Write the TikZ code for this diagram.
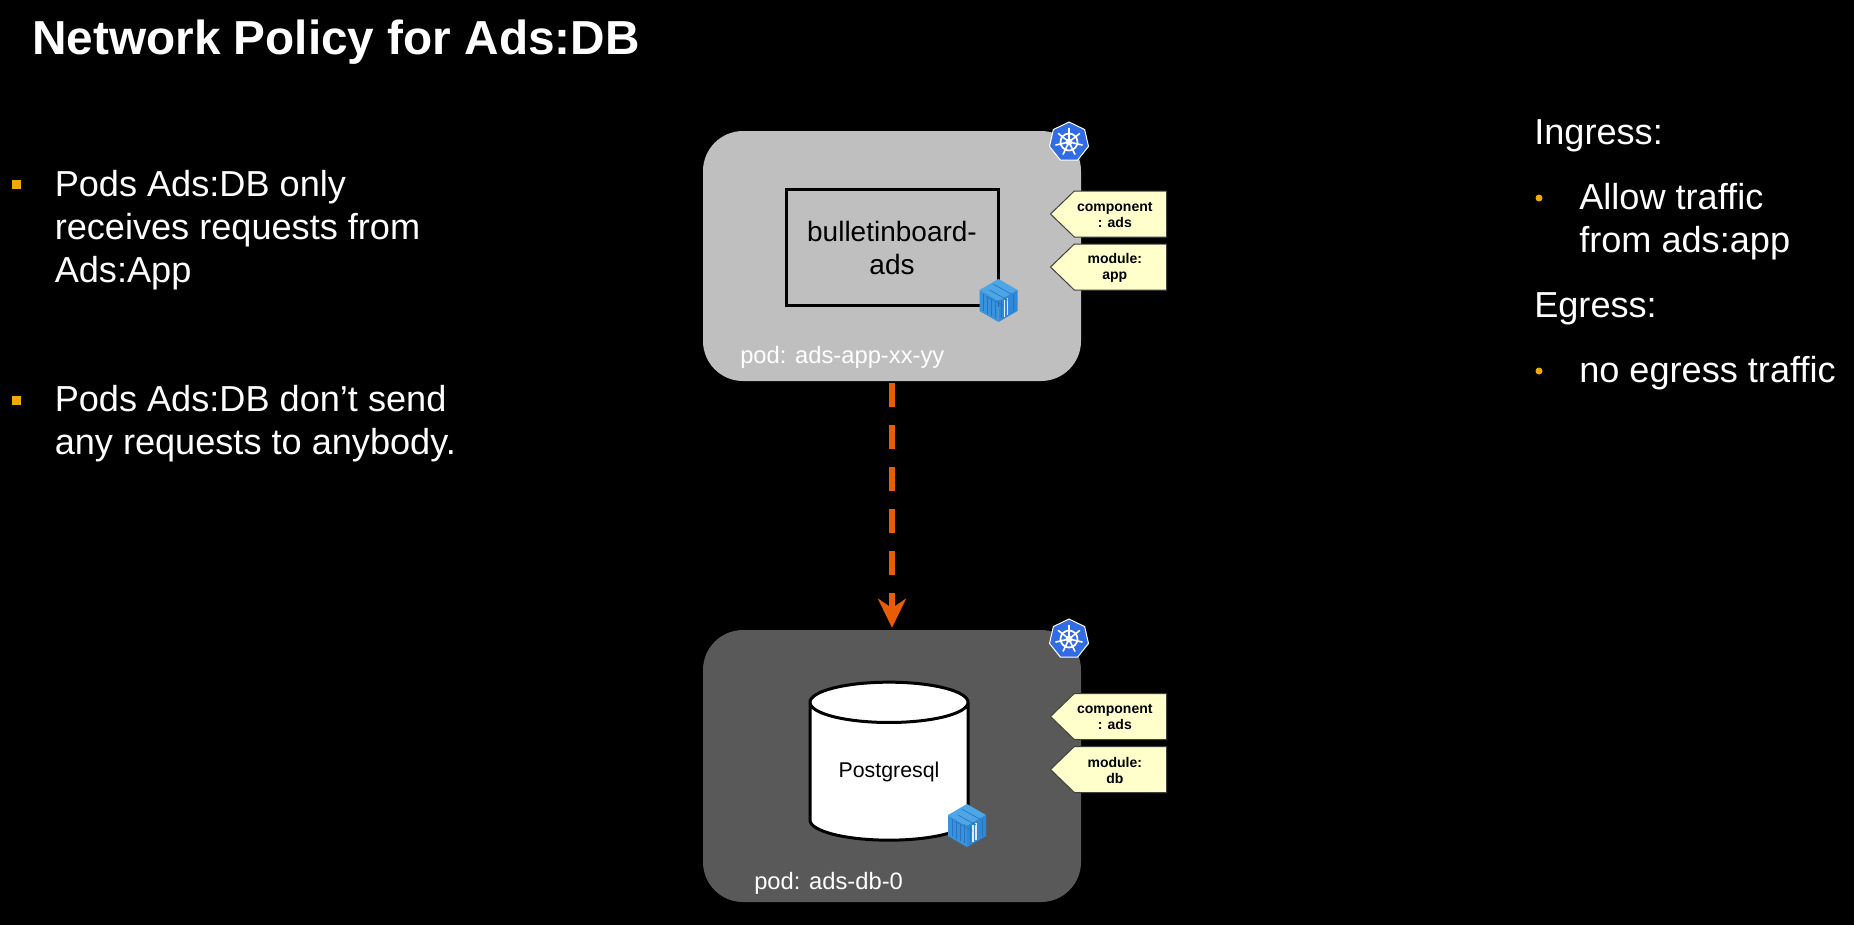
\documentclass[tikz,border=0pt]{standalone}
\usepackage{fontspec}
\setmainfont{Liberation Sans}
\usetikzlibrary{arrows.meta,shapes.geometric,shapes.symbols}
\definecolor{podLight}{RGB}{191,191,191}
\definecolor{podDark}{RGB}{89,89,89}
\definecolor{flowOrange}{RGB}{232,92,4}
\definecolor{bulletGold}{RGB}{240,171,0}
\definecolor{tagYellow}{RGB}{255,255,204}
\definecolor{kubeBlue}{RGB}{50,108,229}
\definecolor{crateTop}{RGB}{78,166,230}
\definecolor{crateLeft}{RGB}{56,146,222}
\definecolor{crateRight}{RGB}{48,136,214}
\definecolor{crateLine}{RGB}{38,116,190}

\begin{document}
\begin{tikzpicture}[
        x=0.75pt, y=-0.75pt,
        podbox/.style={rectangle, rounded corners=30pt, minimum width=283.5pt, inner sep=0pt},
        appbox/.style={rectangle, draw=black, line width=2.25pt, minimum width=159pt, minimum height=87pt},
        apptext/.style={inner sep=0pt, anchor=base, align=center, font=\fontsize{21}{24.75}\selectfont},
        dbstore/.style={cylinder, shape border rotate=90, shape aspect=0.4, draw=black, fill=white, line width=2.25pt, minimum width=118.5pt, minimum height=118.5pt, inner sep=0pt, font=\fontsize{16}{19}\selectfont},
        tag/.style={signal, signal to=west, signal pointer angle=88, draw=black!75, fill=tagYellow, line width=0.75pt, minimum width=87pt, minimum height=34.5pt, inner sep=1pt},
        tagtext/.style={inner sep=0pt, xshift=-4.2pt, yshift=-0.6pt, align=center, font=\fontsize{10.5}{12}\selectfont\bfseries},
        podlabel/.style={text=white, inner sep=0pt, anchor=base west, font=\fontsize{17.8}{21}\selectfont},
        bodytext/.style={text=white, inner sep=0pt, anchor=base west, align=left, font=\fontsize{27.1}{32.25}\selectfont},
        sqbullet/.style={rectangle, fill=bulletGold, minimum size=6.75pt, inner sep=0pt},
        dotbullet/.style={circle, fill=bulletGold, minimum size=5.25pt, inner sep=0pt},
        kubehept/.style={regular polygon, regular polygon sides=7, fill=kubeBlue, draw=white, line width=0.75pt, minimum size=30pt, inner sep=0pt},
        flow/.style={draw=flowOrange, line width=4.5pt, dash pattern=on 18pt off 13.5pt, -{Stealth[length=21.75pt, width=21pt, inset=7pt]}, shorten <=1.5pt, shorten >=1.5pt},
        kubewheel/.pic={
            \draw[white, line width=1.3pt] (0,0) circle (8.5);
            \fill[white] (0,0) circle (3.5);
            \foreach \a in {0,...,6} {
                \draw[white, line width=1.2pt, line cap=round] (0,0) -- ({-90+\a*360/7}:13.5);
            }
        },
        crate/.pic={
            \fill[crateTop] (0,-22) -- (19,-11) -- (0,0) -- (-19,-11) -- cycle;
            \fill[crateLeft] (-19,-11) -- (0,0) -- (0,21) -- (-19,10) -- cycle;
            \fill[crateRight] (19,-11) -- (0,0) -- (0,21) -- (19,10) -- cycle;
            \foreach \x in {-15,-11,-7,-3} {
                \draw[crateLine, line width=0.5pt] (\x,{\x*11/19+2}) -- (\x,{\x*11/19+19});
            }
            \foreach \x in {3,15} {
                \draw[crateLine, line width=0.5pt] (\x,{-\x*11/19+2}) -- (\x,{-\x*11/19+19});
            }
            \foreach \x in {6,9} {
                \draw[white!85!crateRight, line width=0.9pt] (\x,{-\x*11/19+2}) -- (\x,{-\x*11/19+19});
            }
            \foreach \t in {-6,0,6} {
                \draw[crateLine, line width=0.5pt] (-9+\t*0.6,{-11-\t}) -- (9+\t*0.6,{-\t-1});
            }
        }
    ]
        \fill[black] (0,0) rectangle (1854,925);

        \node[text=white, inner sep=0pt, anchor=base west, font=\fontsize{35.8}{42}\selectfont\bfseries] (title) at (32,54) {Network Policy for Ads:DB};

        \node[sqbullet] (bulletone) at (16.5,184.5) {};
        \node[bodytext] (receives) at (54.5,282) {Pods Ads:DB only\\receives requests from\\Ads:App};
        \node[sqbullet] (bullettwo) at (16.5,400.5) {};
        \node[bodytext] (sends) at (54.5,454) {Pods Ads:DB don’t send\\any requests to anybody.};

        \node[bodytext] (ingress) at (1534,144) {Ingress:};
        \node[dotbullet] (bulletin) at (1539,198) {};
        \node[bodytext] (allow) at (1579,252) {Allow traffic\\from ads:app};
        \node[bodytext] (egress) at (1534,317.5) {Egress:};
        \node[dotbullet] (bulletout) at (1539,371) {};
        \node[bodytext] (noegress) at (1579,382) {no egress traffic};

        \node[podbox, fill=podLight, minimum height=187.5pt] (podapp) at (892,256) {};
        \node[podbox, fill=podDark, minimum height=204pt] (poddb) at (892,766) {};
        \draw[flow] (podapp.south) -- (poddb.north);

        \node[appbox] (appcontainer) at (892.5,247.5) {};
        \node[apptext] (appname) at (892,274) {bulletinboard-\\ads};
        \pic at (998.5,301) {crate};
        \node[kubehept] (kubeapp) at (1069,142) {};
        \pic at (kubeapp) {kubewheel};
        \node[tag, anchor=east, label={[tagtext]center:component\\: ads}] (compapp) at (1167,214) {};
        \node[tag, anchor=east, label={[tagtext]center:module:\\app}] (modapp) at (1167,267) {};
        \node[podlabel] (podappname) at (740,363) {pod: ads-app-xx-yy};

        \node[dbstore] (postgres) at (889,772) {Postgresql};
        \pic at (967,826) {crate};
        \node[kubehept] (kubedb) at (1069,639) {};
        \pic at (kubedb) {kubewheel};
        \node[tag, anchor=east, label={[tagtext]center:component\\: ads}] (compdb) at (1167,716.5) {};
        \node[tag, anchor=east, label={[tagtext]center:module:\\db}] (moddb) at (1167,769.5) {};
        \node[podlabel] (poddbname) at (754,889) {pod: ads-db-0};
    \end{tikzpicture}
\end{document}
